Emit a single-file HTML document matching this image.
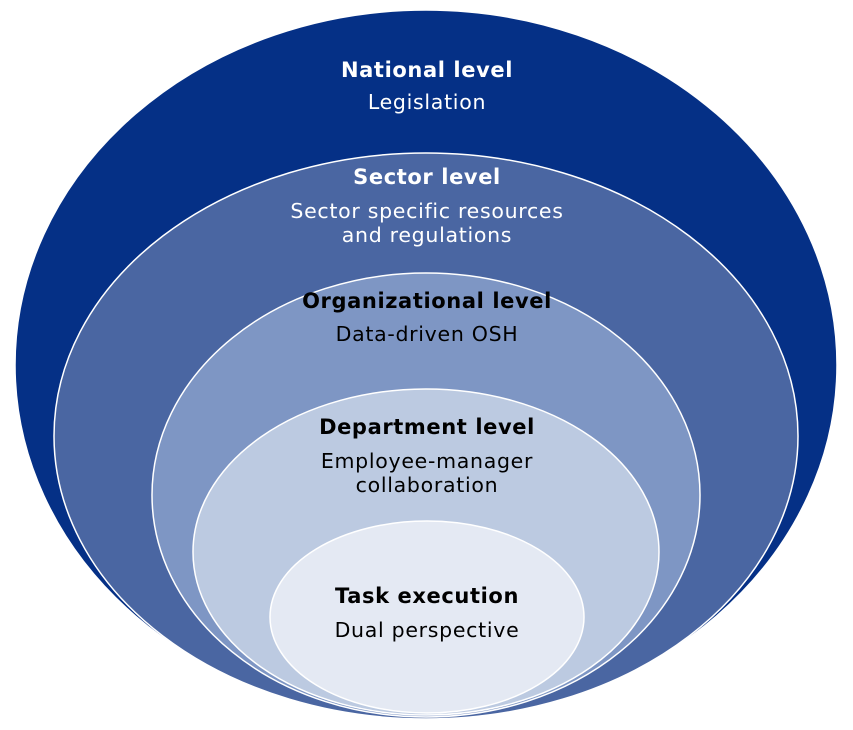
<!DOCTYPE html>
<html><head><meta charset="utf-8"><style>
html,body{margin:0;padding:0;background:#fff;}
svg{display:block;}
text{font-family:"DejaVu Sans","Liberation Sans",sans-serif;text-anchor:middle;}
.b{font-weight:bold;font-size:21px;letter-spacing:0.6px;}
.n{font-size:20.5px;letter-spacing:0.7px;}
</style></head><body>
<svg width="853" height="730" viewBox="0 0 853 730">
<ellipse cx="426" cy="365" rx="411" ry="355" fill="#053086" stroke="#fff" stroke-width="1.5"/>
<ellipse cx="426" cy="436" rx="372" ry="283" fill="#4a66a2" stroke="#fff" stroke-width="1.5"/>
<ellipse cx="426" cy="495" rx="274" ry="222" fill="#7e96c4" stroke="#fff" stroke-width="1.5"/>
<ellipse cx="426" cy="552" rx="233" ry="163" fill="#bccae1" stroke="#fff" stroke-width="1.5"/>
<ellipse cx="427" cy="617" rx="157" ry="96" fill="#e4e9f3" stroke="#fff" stroke-width="1.5"/>
<text x="427" y="77" class="b" fill="#fff">National level</text>
<text x="427" y="109" class="n" fill="#fff">Legislation</text>
<text x="427" y="184" class="b" fill="#fff">Sector level</text>
<text x="427" y="218" class="n" fill="#fff">Sector specific resources</text>
<text x="427" y="242" class="n" fill="#fff">and regulations</text>
<text x="427" y="308" class="b" fill="#000">Organizational level</text>
<text x="427" y="341" class="n" fill="#000">Data-driven OSH</text>
<text x="427" y="434" class="b" fill="#000">Department level</text>
<text x="427" y="468" class="n" fill="#000">Employee-manager</text>
<text x="427" y="492" class="n" fill="#000">collaboration</text>
<text x="427" y="603" class="b" fill="#000">Task execution</text>
<text x="427" y="637" class="n" fill="#000">Dual perspective</text>
</svg>
</body></html>
